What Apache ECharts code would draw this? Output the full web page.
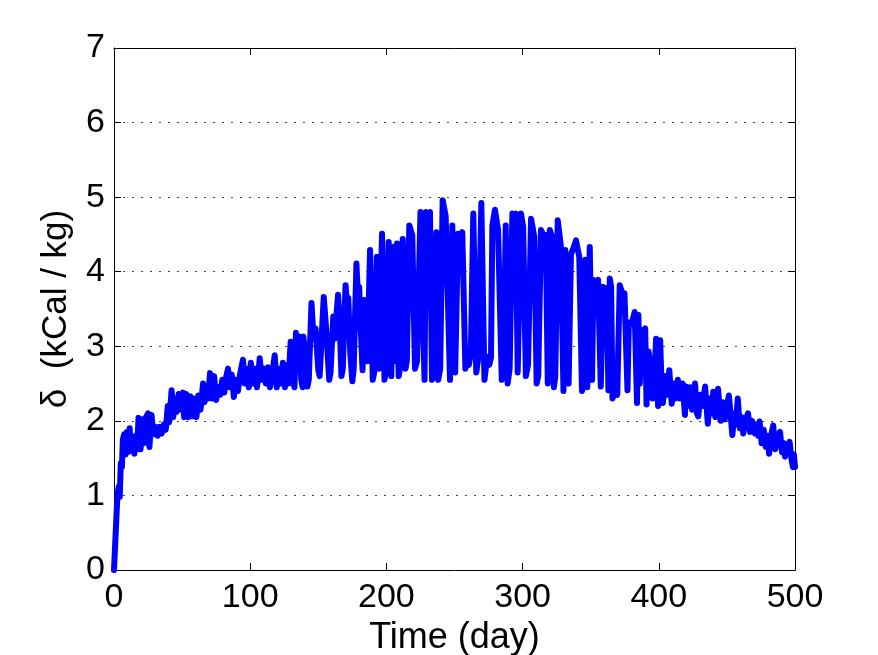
<!DOCTYPE html>
<html>
<head>
<meta charset="utf-8">
<script src="https://cdn.jsdelivr.net/npm/echarts@6/dist/echarts.min.js"></script>
<style>
  html, body { margin: 0; padding: 0; background: #fff; }
  #main { width: 878px; height: 655px; }
</style>
</head>
<body>
<div id="main"></div>
<script>
// [day, delta], peaks and troughs
var risePts = [
  [0,0],[1.5,0.6],[2.5,1.0],[3.5,1.12],[4.2,0.98],[5,1.43],[5.8,1.38],[6.5,1.75],[7.5,1.82],[8.5,1.55],
  [9.5,1.85],[10.5,1.58],[11.5,1.9],[12.5,1.6],[14,1.75],[15,1.56],[16,1.8],[17,1.62],[18,2.04],[19.5,1.62],
  [21,2.02],[22,1.7],[23.5,2.05],[25,2.1],[26,1.65],[27.5,2.08],[29,1.82],[30.5,1.92],[32,1.8],[33.5,1.92],
  [35,1.83],[36.5,1.95],[38,1.88],[39.5,2.2],[40.5,1.98],[42.3,2.41],[43.5,2.05],[45,2.3],[46,2.12],[47.5,2.36],
  [49,2.15],[50.5,2.38],[51.5,2.05],[53,2.36],[54.5,2.05],[56,2.33],[57.5,2.06],[59,2.3],[60.5,2.05],[62,2.34],
  [63.5,2.15],[65.4,2.5],[66.5,2.25],[68,2.45],[69,2.3],[70.5,2.64],[72,2.3],[73.5,2.6],[75,2.28],[76.5,2.45],
  [78,2.35],[79.5,2.55],[81,2.38],[82.5,2.6],[83.7,2.7],[85,2.45],[86.5,2.62],[88,2.32],[89.5,2.55],[91,2.4],
  [92.5,2.62],[94.7,2.82],[96,2.5],[97.5,2.7],[99,2.45],[100.5,2.78],[102,2.5],[103.5,2.7],[105,2.45],[107,2.84],
  [108.5,2.55],[110,2.7],[111.5,2.5],[113,2.72],[114.5,2.45]
];

var peakPts = [
  [116,2.6],[118,2.88],[119.5,2.45],[121,2.7],[122.5,2.5],[124,2.78],[125.5,2.45],[127,2.75],[128,2.5],[129.7,3.06],
  [131,2.55],[132.5,2.45],[133.6,3.18],[135,2.95],[136,3.13],[137.5,2.55],[138.5,2.45],[139,3.13],[140.5,2.9],[142,2.46],
  [143,2.55],[145,3.58],[146.5,3.1],[148,3.24],[150,2.68],[151,2.6],[154,3.66],[155.5,3.3],[156.5,3.0],[158,2.55],
  [159,2.65],[161,3.4],[162,3.1],[164.5,3.69],[165.5,3.4],[167,2.6],[168,2.7],[170,3.82],[171,3.6],[172,3.65],
  [173.5,2.9],[175,2.53],[176,2.7],[178,4.11],[179,3.7],[180,3.8],[181,3.3],[182.5,2.68],[183.5,3.62],[185,3.5],
  [186,2.8],[188,4.29],[189.4,4.29],[190,2.55],[191,2.65],[193,4.2],[194.5,2.7],[196.8,4.51],[198.6,2.55],[200,2.7],
  [201.7,4.4],[203.6,2.6],[205,4.33],[206,2.8],[207.8,4.38],[209,2.6],[210.5,2.75],[212,4.44],[214,2.7],[215,2.8],
  [216.8,4.62],[219,4.49],[221,2.7],[222.5,2.8],[225,4.8],[226,4.78],[228,2.55],[229,4.8],[230.5,4.78],[232,4.8],
  [233.5,2.55],[235,2.7],[236.7,4.53],[238,2.55],[239.5,2.7],[241.3,4.96],[242.3,4.94],[243.5,4.75],[244.7,4.75],[246.7,2.55],
  [248.4,4.62],[250.5,2.65],[252.6,4.51],[254,4.45],[255.7,4.53],[258,2.7],[259,2.85],[260.5,2.75],[262,2.9],[263.8,4.78],
  [266,2.65],[267.5,2.85],[269.7,4.92],[272,2.55],[274,2.86],[275.5,2.75],[276.8,2.85],[277.8,4.62],[279.7,4.83],[282,4.56],
  [284.7,2.55],[286,2.65],[287.6,4.62],[289,2.5],[290.5,2.7],[292.5,4.78],[294,4.75],[295,4.78],[296.4,2.65],[298.8,4.78],
  [300.4,4.6],[302.4,2.6],[304,2.75],[306.2,4.71],[308.6,4.47],[310.3,2.5],[311.5,2.6],[313.5,4.56],[315,4.5],[317,4.49],
  [318.5,2.5],[320,4.56],[321.5,4.47],[323,2.45],[324,2.6],[325.8,4.69],[328,4.36],[330,2.4],[331.3,4.29],[333.8,2.5],
  [335.5,4.24],[337,4.3],[339.2,4.42],[341.6,4.2],[343.6,2.4],[345,2.5],[346,4.16],[347.5,2.45],[349.3,4.33],[351,2.55],
  [352,3.89],[353.5,3.8],[355.4,3.89],[357.4,2.46],[359,3.8],[360.5,3.75],[361.7,3.78],[363,2.41],[364,3.91],[365,3.8],
  [366,2.3],[368,2.4],[369.5,2.35],[371.3,3.82],[373,3.72],[374.8,3.71],[377,2.41],[378,3.32],[380,3.3],[382.3,3.46],
  [384,2.24],[385,3.42],[386,2.5],[387.5,3.22],[389,3.18],[390,3.24],[391,2.22],[392.5,2.93],[394,2.7],[395.5,2.3],
  [396.5,2.5],[398,3.1],[399.5,2.2],[400.5,2.4],[401,3.08]
];

var fallPts = [
  [402,2.5],[403,2.24],[405,2.6],[406,2.35],[407.7,2.68],[409.5,2.23],[411,2.5],[412.5,2.3],[414,2.55],[415.5,2.3],
  [417.5,2.5],[419.2,2.08],[420,2.46],[421.5,2.2],[423,2.45],[424.5,2.15],[426.6,2.5],[428,2.1],[429,2.06],[430.5,2.35],
  [432,2.2],[434,2.46],[436,1.96],[437.5,2.3],[439,2.1],[440,2.39],[441.5,2.05],[443.5,2.43],[445.5,2.0],[447,2.25],
  [448.5,2.02],[450,2.2],[451.5,2.34],[454,1.81],[455.5,2.1],[456.5,1.95],[458,2.3],[459.5,1.9],[461,2.05],[462,1.83],
  [463.5,2.0],[465.5,2.1],[467,1.85],[468.5,2.0],[470.6,1.83],[472,1.95],[473,1.8],[474,1.99],[475.5,1.7],[477,1.88],
  [478.5,1.65],[480,1.8],[481,1.56],[482.5,1.8],[484,1.94],[485.5,1.62],[487,1.8],[489,1.85],[490.5,1.58],[492,1.7],
  [492.7,1.52],[494.5,1.65],[496,1.72],[497.5,1.48],[498.5,1.38],[499.2,1.55],[500,1.38]
];

var xTicks = [0, 500, 100];   // min, max, step
var yTicks = [0, 7, 1];

var chart = echarts.init(document.getElementById('main'), null, { renderer: 'canvas' });

var font = '"Liberation Sans", Arial, sans-serif';
var boxLine = { show: true, onZero: false, lineStyle: { color: '#000', width: 1 } };
var inTick = { show: true, inside: true, length: 7, lineStyle: { color: '#000' } };

var option = {
  backgroundColor: '#fff',
  animation: false,
  grid: { left: 114, right: 83, top: 48, bottom: 85, outerBoundsMode: 'none', containLabel: false },
  xAxis: [{
    type: 'value',
    min: xTicks[0], max: xTicks[1], interval: xTicks[2],
    axisLine: boxLine,
    axisTick: inTick,
    splitLine: { show: false },
    axisLabel: { color: '#000', fontSize: 34, fontFamily: font, margin: 11 },
    name: 'Time (day)',
    nameLocation: 'middle',
    nameGap: 40,
    nameTextStyle: { color: '#000', fontSize: 36, fontFamily: font }
  }, {
    type: 'value', position: 'top',
    min: xTicks[0], max: xTicks[1], interval: xTicks[2],
    axisLine: boxLine, axisTick: inTick,
    axisLabel: { show: false }, splitLine: { show: false }
  }],
  yAxis: [{
    type: 'value',
    min: yTicks[0], max: yTicks[1], interval: yTicks[2],
    axisLine: boxLine,
    axisTick: inTick,
    splitLine: { show: true, lineStyle: { color: '#444', width: 1, type: [2, 7] } },
    axisLabel: { color: '#000', fontSize: 34, fontFamily: font, margin: 9 },
    name: 'δ  (kCal / kg)',
    nameLocation: 'middle',
    nameGap: 40,
    nameTextStyle: { color: '#000', fontSize: 35, fontFamily: font }
  }, {
    type: 'value', position: 'right',
    min: yTicks[0], max: yTicks[1], interval: yTicks[2],
    axisLine: boxLine, axisTick: inTick,
    axisLabel: { show: false }, splitLine: { show: false }
  }],
  series: [{
    type: 'line',
    data: risePts.concat(peakPts, fallPts),
    showSymbol: false,
    symbol: 'none',
    clip: true,
    lineStyle: { color: '#0000ff', width: 6, join: 'round', cap: 'round' }
  }]
};

chart.setOption(option);
</script>
</body>
</html>
